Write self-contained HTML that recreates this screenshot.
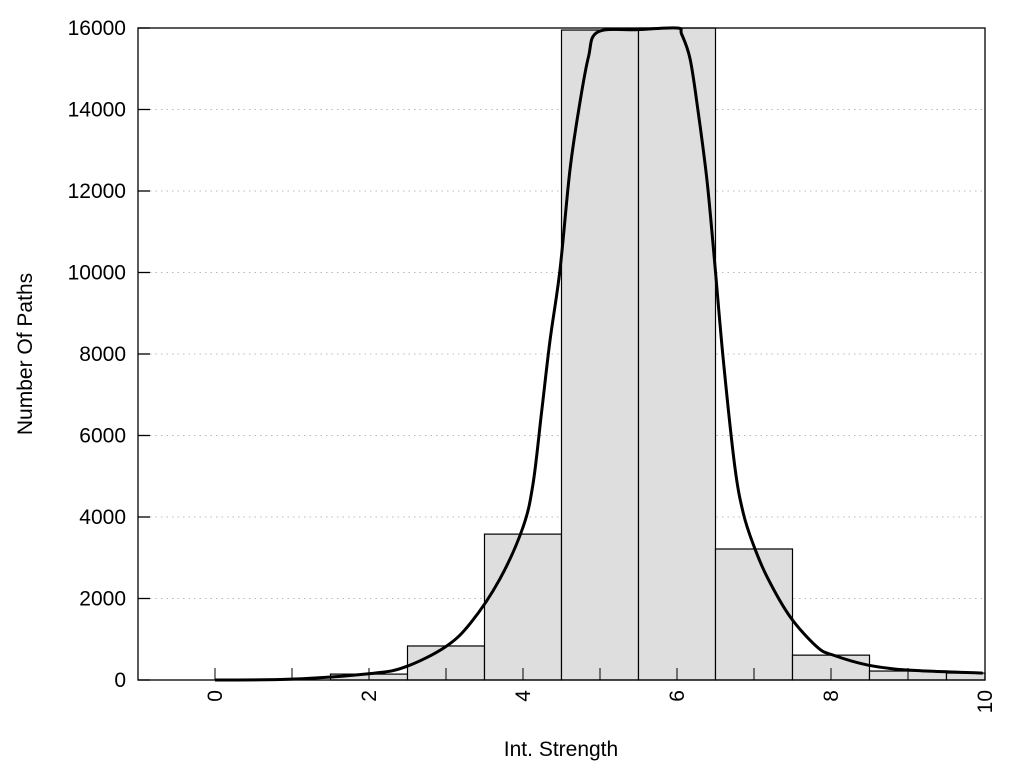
<!DOCTYPE html>
<html><head><meta charset="utf-8"><style>
html,body{margin:0;padding:0;background:#fff;}
svg{display:block;font-family:"Liberation Sans",sans-serif;}
</style></head><body>
<svg id="chart" width="1024" height="768" viewBox="0 0 1024 768" xmlns="http://www.w3.org/2000/svg">
<g id="grid"></g>
<g id="bars"></g>
<g id="xticks"></g>
<g id="curve"></g>
<rect x="138" y="28" width="847" height="652" fill="none" stroke="#000" stroke-width="1.3"/>
<g id="yticks"></g>
<text x="561" y="756" font-size="21" text-anchor="middle">Int. Strength</text>
<text transform="translate(32,354) rotate(-90)" font-size="21" text-anchor="middle">Number Of Paths</text>
</svg>
<script>
const barCenters = [0,1,2,3,4,5,6,7,8,9,10];
const barValues = [0,0,145,835,3580,15950,16000,3215,610,220,170];
const curveX = [0,0.99,2.03,2.47,2.99,3.32,3.70,4.00,4.13,4.24,4.35,4.48,4.61,4.74,4.85,4.97,5.5,6.00,6.06,6.17,6.27,6.39,6.49,6.60,6.75,6.86,6.99,7.17,7.47,7.82,8.03,8.47,8.99,9.97];
const curveY = [0,20,160,320,810,1400,2480,3750,4810,6550,8320,10060,12520,14180,15290,15900,15960,16000,15850,15240,14010,12250,10230,7880,5250,4100,3330,2530,1550,810,610,370,245,170];
const xTickLabels = ["0","2","4","6","8","10"];
const xTickValues = [0,2,4,6,8,10];
const yTickValues = [0,2000,4000,6000,8000,10000,12000,14000,16000];
const yTickLabels = ["0","2000","4000","6000","8000","10000","12000","14000","16000"];
const X0=138,X1=985,Y0=680,Y1=28,XMIN=-1,XMAX=10,YMIN=0,YMAX=16000;
const sx=v=>X0+(v-XMIN)/(XMAX-XMIN)*(X1-X0);
const sy=v=>Y0-(v-YMIN)/(YMAX-YMIN)*(Y0-Y1);
const NS='http://www.w3.org/2000/svg';
function mk(tag,attrs,parent){const e=document.createElementNS(NS,tag);for(const k in attrs)e.setAttribute(k,attrs[k]);parent.appendChild(e);return e;}
const grid=document.getElementById('grid'),bars=document.getElementById('bars'),xt=document.getElementById('xticks'),yt=document.getElementById('yticks'),cv=document.getElementById('curve');
yTickValues.forEach((v,i)=>{
  if(v>YMIN&&v<YMAX){const g=mk('line',{x1:X0+12,x2:X1,y1:sy(v),y2:sy(v),stroke:'#bbb','stroke-width':1,'stroke-dasharray':'1.5,4'},grid);
  
  }
  const t=mk('line',{x1:X0,x2:X0+12,y1:sy(v),y2:sy(v),stroke:'#000','stroke-width':1.3},yt);
  
  
  const l=mk('text',{x:126,y:sy(v)+7,'font-size':21,'text-anchor':'end'},yt);
  
  
  l.textContent=yTickLabels[i];
});
for(let v=0;v<=10;v++){
  const t=mk('line',{x1:sx(v),x2:sx(v),y1:Y0,y2:Y0-12,stroke:'#000','stroke-width':1},xt);
  
  
}
xTickValues.forEach((v,i)=>{
  const l=mk('text',{transform:`translate(${sx(v)+7},${Y0+10}) rotate(-90)`,'font-size':21,'text-anchor':'end'},xt);
  
  
  l.textContent=xTickLabels[i];
});
barCenters.forEach((c,i)=>{
  if(barValues[i]<=0)return;
  const a=Math.max(sx(c-0.5),X0),b=Math.min(sx(c+0.5),X1);
  const r=mk('rect',{x:a,y:sy(barValues[i]),width:b-a,height:Y0-sy(barValues[i]),fill:'#dedede',stroke:'#000','stroke-width':1.2},bars);
  
  
});
const pts=curveX.map((x,i)=>[sx(x),sy(curveY[i])]);
let d='M'+pts[0][0]+','+pts[0][1];
for(let i=0;i<pts.length-1;i++){
  const p0=pts[Math.max(0,i-1)],p1=pts[i],p2=pts[i+1],p3=pts[Math.min(pts.length-1,i+2)];
  const c1=[p1[0]+(p2[0]-p0[0])/6,p1[1]+(p2[1]-p0[1])/6],c2=[p2[0]-(p3[0]-p1[0])/6,p2[1]-(p3[1]-p1[1])/6];
  d+=` C${c1[0]},${c1[1]} ${c2[0]},${c2[1]} ${p2[0]},${p2[1]}`;
}
const path=mk('path',{d:d,fill:'none',stroke:'#000','stroke-width':3,'stroke-linejoin':'round'},cv);


</script>
</body></html>
